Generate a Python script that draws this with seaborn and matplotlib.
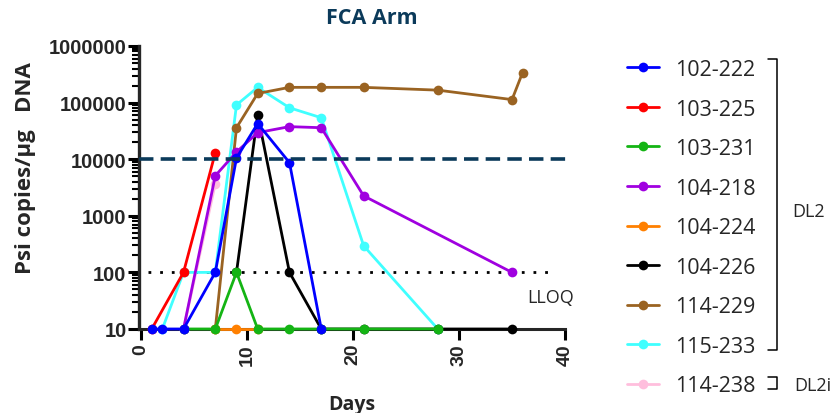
import matplotlib
matplotlib.use("Agg")
import matplotlib.pyplot as plt
import matplotlib.ticker as mticker
from matplotlib.lines import Line2D
import pandas as pd
import seaborn as sns

subjects = ["102-222", "103-225", "103-231", "104-218", "104-224",
            "104-226", "114-229", "115-233", "114-238"]

days_102_222 = [1, 2, 4, 7, 9, 11, 14, 17]
vals_102_222 = [10, 10, 10, 100, 10500, 42700, 8700, 10]

days_103_225 = [1, 4, 7]
vals_103_225 = [10, 100, 13000]

days_103_231 = [4, 7, 9, 11, 14, 17, 21, 28]
vals_103_231 = [10, 10, 100, 10, 10, 10, 10, 10]

days_104_218 = [4, 7, 9, 11, 14, 17, 21, 35]
vals_104_218 = [10, 5100, 13400, 29500, 37600, 36000, 2250, 100]

days_104_224 = [7, 9, 11]
vals_104_224 = [10, 10, 10]

days_104_226 = [9, 11, 14, 17, 21, 28, 35]
vals_104_226 = [100, 61000, 100, 10, 10, 10, 10]

days_114_229 = [7, 9, 11, 14, 17, 21, 28, 35, 36]
vals_114_229 = [10, 36000, 145000, 186000, 186000, 186000, 166000, 113000, 340000]

days_115_233 = [2, 4, 7, 9, 11, 14, 17, 21, 28]
vals_115_233 = [10, 100, 100, 91000, 186000, 81000, 54000, 295, 10]

days_114_238 = [4, 7]
vals_114_238 = [10, 3700]

colors = ["#0000ff", "#ff0000", "#14b414", "#a000e0", "#ff8000",
          "#000000", "#9a6322", "#40ffff", "#ffbedd"]

lloq = 100
threshold = 10000

series = [
    (days_102_222, vals_102_222), (days_103_225, vals_103_225),
    (days_103_231, vals_103_231), (days_104_218, vals_104_218),
    (days_104_224, vals_104_224), (days_104_226, vals_104_226),
    (days_114_229, vals_114_229), (days_115_233, vals_115_233),
    (days_114_238, vals_114_238),
]

rows = []
for name, (d, v) in zip(subjects, series):
    for day, val in zip(d, v):
        rows.append({"subject": name, "day": day, "value": val})
df = pd.DataFrame(rows)

sns.set_style("ticks")
plt.rcParams["font.family"] = ["Liberation Sans", "DejaVu Sans"]

fig = plt.figure(figsize=(8.34, 4.14), dpi=100)
ax = fig.add_axes([139 / 834, 1 - 330 / 414, (565 - 139) / 834, (330 - 47) / 414])

# first subject drawn on top, like the original
for i, name in enumerate(subjects):
    sub = df[df["subject"] == name]
    sns.lineplot(data=sub, x="day", y="value", ax=ax, color=colors[i],
                 marker="o", markersize=7, markeredgewidth=0, linewidth=2,
                 label=name, zorder=30 - i, clip_on=False, estimator=None)

ax.set_yscale("log")
ax.set_ylim(10, 1e6)
ax.set_xlim(-0.2, 40)

ax.axhline(lloq, xmin=0.02, xmax=0.98, color="black", linestyle=(0, (1, 3.2)),
           linewidth=2, zorder=5)
ax.axhline(threshold, xmin=0, xmax=1.007, color="#0b3a5a", linestyle=(0, (4, 2)),
           linewidth=2.6, zorder=40, clip_on=False)
ax.text(38.6, 37, "LLOQ", fontsize=13, family="Open Sans", ha="center", va="center")

ax.set_xticks([0, 10, 20, 30, 40])
ax.set_yticks([10, 100, 1000, 10000, 100000, 1000000])
ax.yaxis.set_major_formatter(mticker.FuncFormatter(lambda v, p: f"{int(v)}"))
ax.yaxis.set_minor_locator(mticker.LogLocator(base=10, subs=range(2, 10), numticks=20))
ax.yaxis.set_minor_formatter(mticker.NullFormatter())

for lab in ax.get_xticklabels():
    lab.set_rotation(90)
    lab.set_fontweight("bold")
    lab.set_fontsize(14)
for lab in ax.get_yticklabels():
    lab.set_fontweight("bold")
    lab.set_fontsize(14.5)

ax.tick_params(axis="both", which="major", length=8, width=2.2, pad=1, color="black")
ax.tick_params(axis="y", which="minor", length=5, width=1.5, color="black")
ax.tick_params(axis="x", pad=2)

sns.despine(ax=ax)
ax.spines["left"].set_linewidth(2.4)
ax.spines["bottom"].set_linewidth(2.2)

ax.set_xlabel("Days", fontsize=14, fontweight="bold", family="Open Sans")
ax.xaxis.set_label_coords(0.5, -(395 - 330) / 283)
ax.set_ylabel("Psi copies/μg   DNA", fontsize=16, fontweight="bold", family="Open Sans")
ax.yaxis.set_label_coords(-(139 - 36) / 426, (330 - 168) / 283)

fig.text(372 / 834, 1 - 18 / 414, "FCA Arm", fontsize=15.5, fontweight="bold",
         color="#0b3a5a", family="Open Sans", ha="center", va="center")

handles, labels = ax.get_legend_handles_labels()
leg = ax.legend(handles, labels, loc="upper left", bbox_to_anchor=(627 / 834, 1 - 60 / 414),
                bbox_transform=fig.transFigure, frameon=False,
                prop={"family": "Open Sans", "size": 15.5},
                handlelength=1.5, handletextpad=0.75, labelspacing=0.86,
                borderaxespad=0, borderpad=0)

# brackets grouping DL2 and DL2i
def bracket(y0, y1, x=777, tick=9):
    xs = [(x - tick) / 834, x / 834, x / 834, (x - tick) / 834]
    ys = [1 - y0 / 414, 1 - y0 / 414, 1 - y1 / 414, 1 - y1 / 414]
    fig.add_artist(Line2D(xs, ys, color="black", linewidth=1.1))

bracket(60, 351)
bracket(378, 390)
fig.text(792 / 834, 1 - 212 / 414, "DL2", fontsize=13, family="Open Sans", va="center")
fig.text(794 / 834, 1 - 386 / 414, "DL2i", fontsize=13, family="Open Sans", va="center")

fig.savefig("out.png", dpi=100)
